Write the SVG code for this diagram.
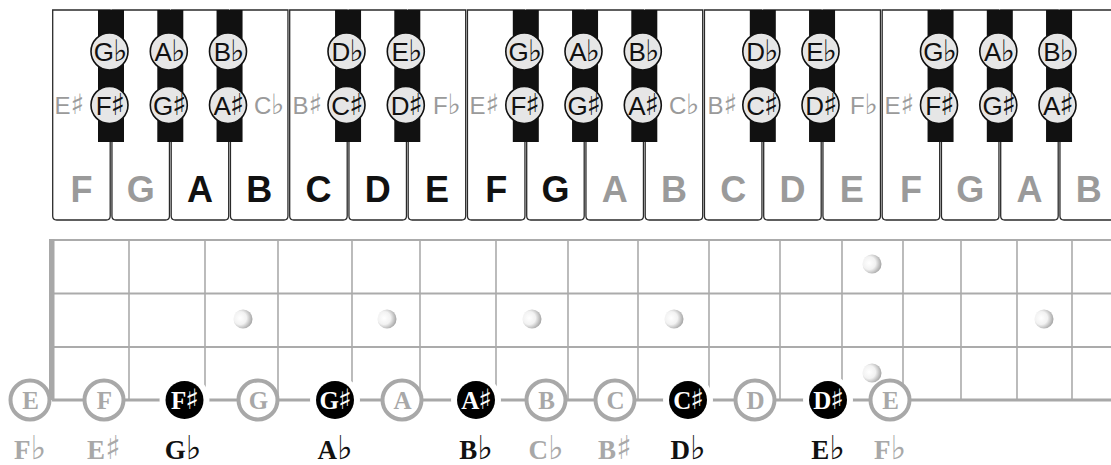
<svg xmlns="http://www.w3.org/2000/svg" xmlns:xlink="http://www.w3.org/1999/xlink" width="1111" height="465" viewBox="0 0 1111 465">
<style>
.wk{fill:#fff;stroke:#2a2a2a;stroke-width:1.3}
.bk{fill:#111}
.kc{fill:#e6e6e6;stroke:#111;stroke-width:1.6}
.kct{font-family:"Liberation Sans","DejaVu Sans",sans-serif;font-size:26px;fill:#111;text-anchor:middle;letter-spacing:-1px}
.acc{font-family:"DejaVu Sans",sans-serif}
.kct .acc{font-size:30px}
.en{font-family:"Liberation Sans","DejaVu Sans",sans-serif;font-size:24px;fill:#9a9a9a}
.en .acc{font-size:28px}
.wl{font-family:"Liberation Sans","DejaVu Sans",sans-serif;font-size:36px;font-weight:bold;text-anchor:middle}
.g{fill:#9a9a9a}.b{fill:#111}
.grid{stroke:#ababab;stroke-width:2;fill:none}
.fret{stroke:#ababab;stroke-width:1.6}
.gc{fill:#fff;stroke:#a8a8a8;stroke-width:4}
.halo{fill:#fff}
.bc{fill:#000}
.ft{font-family:"Liberation Serif","DejaVu Serif",serif;font-weight:bold;font-size:25px;text-anchor:middle;letter-spacing:-1px}
.ft .acc{font-size:28px;font-weight:bold}
.ftg{fill:#a8a8a8}.ftw{fill:#fff}
.bl{font-family:"Liberation Serif","DejaVu Serif",serif;font-weight:bold;font-size:27px;text-anchor:middle}
.bl .acc{font-size:33px;font-weight:bold}
.blg{fill:#a8a8a8}.blb{fill:#111}
</style>
<defs>
<path id="wkey" d="M0,10 V216 Q0,220 4,220 H53.5 Q57.5,220 57.5,216 V10 Z"/>
<rect id="bkey" x="-13" y="10" width="26" height="132"/>
<radialGradient id="pearl" cx="0.35" cy="0.45" r="0.75">
<stop offset="0" stop-color="#ffffff"/>
<stop offset="0.45" stop-color="#f2f2f2"/>
<stop offset="1" stop-color="#8c8c8c"/>
</radialGradient>
</defs>

<g id="keyboard">
<g id="white-keys">
<use xlink:href="#wkey" class="wk" x="52.7"/>
<use xlink:href="#wkey" class="wk" x="111.95"/>
<use xlink:href="#wkey" class="wk" x="171.2"/>
<use xlink:href="#wkey" class="wk" x="230.45"/>
<use xlink:href="#wkey" class="wk" x="289.7"/>
<use xlink:href="#wkey" class="wk" x="348.95"/>
<use xlink:href="#wkey" class="wk" x="408.2"/>
<use xlink:href="#wkey" class="wk" x="467.45"/>
<use xlink:href="#wkey" class="wk" x="526.7"/>
<use xlink:href="#wkey" class="wk" x="585.95"/>
<use xlink:href="#wkey" class="wk" x="645.2"/>
<use xlink:href="#wkey" class="wk" x="704.45"/>
<use xlink:href="#wkey" class="wk" x="763.7"/>
<use xlink:href="#wkey" class="wk" x="822.95"/>
<use xlink:href="#wkey" class="wk" x="882.2"/>
<use xlink:href="#wkey" class="wk" x="941.45"/>
<use xlink:href="#wkey" class="wk" x="1000.7"/>
<use xlink:href="#wkey" class="wk" x="1059.95"/>
</g>
<g id="white-labels">
<text class="wl g" x="81.45" y="202">F</text>
<text class="wl g" x="140.7" y="202">G</text>
<text class="wl b" x="199.95" y="202">A</text>
<text class="wl b" x="259.2" y="202">B</text>
<text class="wl b" x="318.45" y="202">C</text>
<text class="wl b" x="377.7" y="202">D</text>
<text class="wl b" x="436.95" y="202">E</text>
<text class="wl b" x="496.2" y="202">F</text>
<text class="wl b" x="555.45" y="202">G</text>
<text class="wl g" x="614.7" y="202">A</text>
<text class="wl g" x="673.95" y="202">B</text>
<text class="wl g" x="733.2" y="202">C</text>
<text class="wl g" x="792.45" y="202">D</text>
<text class="wl g" x="851.7" y="202">E</text>
<text class="wl g" x="910.95" y="202">F</text>
<text class="wl g" x="970.2" y="202">G</text>
<text class="wl g" x="1029.45" y="202">A</text>
<text class="wl g" x="1088.7" y="202">B</text>
</g>
<g id="black-keys">
<use xlink:href="#bkey" class="bk" x="111"/>
<use xlink:href="#bkey" class="bk" x="170.3"/>
<use xlink:href="#bkey" class="bk" x="229.55"/>
<use xlink:href="#bkey" class="bk" x="348.05"/>
<use xlink:href="#bkey" class="bk" x="407.3"/>
<use xlink:href="#bkey" class="bk" x="525.8"/>
<use xlink:href="#bkey" class="bk" x="585.05"/>
<use xlink:href="#bkey" class="bk" x="644.3"/>
<use xlink:href="#bkey" class="bk" x="762.8"/>
<use xlink:href="#bkey" class="bk" x="822.05"/>
<use xlink:href="#bkey" class="bk" x="940.55"/>
<use xlink:href="#bkey" class="bk" x="999.8"/>
<use xlink:href="#bkey" class="bk" x="1059.05"/>
</g>
<g id="key-circles">
<circle class="kc" cx="109.5" cy="51.5" r="18.5"/><text class="kct" x="110" y="61">G<tspan class="acc">♭</tspan></text>
<circle class="kc" cx="109.5" cy="105" r="18.5"/><text class="kct" x="110" y="114.5">F<tspan class="acc">♯</tspan></text>
<circle class="kc" cx="168.8" cy="51.5" r="18.5"/><text class="kct" x="169.3" y="61">A<tspan class="acc">♭</tspan></text>
<circle class="kc" cx="168.8" cy="105" r="18.5"/><text class="kct" x="169.3" y="114.5">G<tspan class="acc">♯</tspan></text>
<circle class="kc" cx="228" cy="51.5" r="18.5"/><text class="kct" x="228.5" y="61">B<tspan class="acc">♭</tspan></text>
<circle class="kc" cx="228" cy="105" r="18.5"/><text class="kct" x="228.5" y="114.5">A<tspan class="acc">♯</tspan></text>
<circle class="kc" cx="346.5" cy="51.5" r="18.5"/><text class="kct" x="347" y="61">D<tspan class="acc">♭</tspan></text>
<circle class="kc" cx="346.5" cy="105" r="18.5"/><text class="kct" x="347" y="114.5">C<tspan class="acc">♯</tspan></text>
<circle class="kc" cx="405.8" cy="51.5" r="18.5"/><text class="kct" x="406.3" y="61">E<tspan class="acc">♭</tspan></text>
<circle class="kc" cx="405.8" cy="105" r="18.5"/><text class="kct" x="406.3" y="114.5">D<tspan class="acc">♯</tspan></text>
<circle class="kc" cx="524.3" cy="51.5" r="18.5"/><text class="kct" x="524.8" y="61">G<tspan class="acc">♭</tspan></text>
<circle class="kc" cx="524.3" cy="105" r="18.5"/><text class="kct" x="524.8" y="114.5">F<tspan class="acc">♯</tspan></text>
<circle class="kc" cx="583.5" cy="51.5" r="18.5"/><text class="kct" x="584" y="61">A<tspan class="acc">♭</tspan></text>
<circle class="kc" cx="583.5" cy="105" r="18.5"/><text class="kct" x="584" y="114.5">G<tspan class="acc">♯</tspan></text>
<circle class="kc" cx="642.8" cy="51.5" r="18.5"/><text class="kct" x="643.3" y="61">B<tspan class="acc">♭</tspan></text>
<circle class="kc" cx="642.8" cy="105" r="18.5"/><text class="kct" x="643.3" y="114.5">A<tspan class="acc">♯</tspan></text>
<circle class="kc" cx="761.3" cy="51.5" r="18.5"/><text class="kct" x="761.8" y="61">D<tspan class="acc">♭</tspan></text>
<circle class="kc" cx="761.3" cy="105" r="18.5"/><text class="kct" x="761.8" y="114.5">C<tspan class="acc">♯</tspan></text>
<circle class="kc" cx="820.5" cy="51.5" r="18.5"/><text class="kct" x="821" y="61">E<tspan class="acc">♭</tspan></text>
<circle class="kc" cx="820.5" cy="105" r="18.5"/><text class="kct" x="821" y="114.5">D<tspan class="acc">♯</tspan></text>
<circle class="kc" cx="939" cy="51.5" r="18.5"/><text class="kct" x="939.5" y="61">G<tspan class="acc">♭</tspan></text>
<circle class="kc" cx="939" cy="105" r="18.5"/><text class="kct" x="939.5" y="114.5">F<tspan class="acc">♯</tspan></text>
<circle class="kc" cx="998.3" cy="51.5" r="18.5"/><text class="kct" x="998.8" y="61">A<tspan class="acc">♭</tspan></text>
<circle class="kc" cx="998.3" cy="105" r="18.5"/><text class="kct" x="998.8" y="114.5">G<tspan class="acc">♯</tspan></text>
<circle class="kc" cx="1057.5" cy="51.5" r="18.5"/><text class="kct" x="1058" y="61">B<tspan class="acc">♭</tspan></text>
<circle class="kc" cx="1057.5" cy="105" r="18.5"/><text class="kct" x="1058" y="114.5">A<tspan class="acc">♯</tspan></text>
</g>
<g id="enharmonic-labels">
<text class="en" x="84" y="114" text-anchor="end">E<tspan class="acc">♯</tspan></text>
<text class="en" x="254" y="114">C<tspan class="acc">♭</tspan></text>
<text class="en" x="322" y="114" text-anchor="end">B<tspan class="acc">♯</tspan></text>
<text class="en" x="433" y="114">F<tspan class="acc">♭</tspan></text>
<text class="en" x="499" y="114" text-anchor="end">E<tspan class="acc">♯</tspan></text>
<text class="en" x="669" y="114">C<tspan class="acc">♭</tspan></text>
<text class="en" x="737" y="114" text-anchor="end">B<tspan class="acc">♯</tspan></text>
<text class="en" x="850" y="114">F<tspan class="acc">♭</tspan></text>
<text class="en" x="914" y="114" text-anchor="end">E<tspan class="acc">♯</tspan></text>
</g>
</g>

<g id="fretboard">
<g id="grid">
<line class="grid" x1="54" y1="240" x2="1111" y2="240"/>
<line class="grid" x1="54" y1="293.5" x2="1111" y2="293.5"/>
<line class="grid" x1="54" y1="347" x2="1111" y2="347"/>
<line class="fret" x1="129" y1="240" x2="129" y2="400"/>
<line class="fret" x1="205" y1="240" x2="205" y2="400"/>
<line class="fret" x1="278" y1="240" x2="278" y2="400"/>
<line class="fret" x1="352" y1="240" x2="352" y2="400"/>
<line class="fret" x1="420" y1="240" x2="420" y2="400"/>
<line class="fret" x1="496" y1="240" x2="496" y2="400"/>
<line class="fret" x1="568" y1="240" x2="568" y2="400"/>
<line class="fret" x1="638" y1="240" x2="638" y2="400"/>
<line class="fret" x1="709" y1="240" x2="709" y2="400"/>
<line class="fret" x1="780" y1="240" x2="780" y2="400"/>
<line class="fret" x1="842" y1="240" x2="842" y2="400"/>
<line class="fret" x1="903" y1="240" x2="903" y2="400"/>
<line class="fret" x1="961" y1="240" x2="961" y2="400"/>
<line class="fret" x1="1017" y1="240" x2="1017" y2="400"/>
<line class="fret" x1="1072" y1="240" x2="1072" y2="400"/>
<rect id="nut" x="49" y="239" width="5.5" height="161" fill="#a8a8a8"/>
</g>
<g id="inlays" fill="url(#pearl)">
<circle cx="243" cy="319" r="9.5"/>
<circle cx="387" cy="319" r="9.5"/>
<circle cx="532" cy="319" r="9.5"/>
<circle cx="674" cy="319" r="9.5"/>
<circle cx="872" cy="264" r="9.5"/>
<circle cx="872" cy="373" r="9.5"/>
<circle cx="1044" cy="319" r="9.5"/>
</g>
</g>

<g id="connectors">
<line x1="52" y1="400" x2="1111" y2="400" stroke="#a8a8a8" stroke-width="3"/>
</g>

<g id="string-notes">
<g id="n-E"><circle class="gc" cx="30" cy="400" r="19.5"/><text class="ft ftg" x="30" y="408.5">E</text></g>
<g id="n-F"><circle class="gc" cx="104" cy="400" r="19.5"/><text class="ft ftg" x="104" y="408.5">F</text></g>
<g id="n-Fs"><circle class="halo" cx="184.5" cy="400" r="25"/><circle class="bc" cx="184.5" cy="400" r="19"/><text class="ft ftw" x="184.5" y="408.5">F<tspan class="acc">♯</tspan></text></g>
<g id="n-G"><circle class="gc" cx="258" cy="400" r="19.5"/><text class="ft ftg" x="258" y="408.5">G</text></g>
<g id="n-Gs"><circle class="halo" cx="335" cy="400" r="25"/><circle class="bc" cx="335" cy="400" r="19"/><text class="ft ftw" x="335" y="408.5">G<tspan class="acc">♯</tspan></text></g>
<g id="n-A"><circle class="gc" cx="402" cy="400" r="19.5"/><text class="ft ftg" x="402" y="408.5">A</text></g>
<g id="n-As"><circle class="halo" cx="476" cy="400" r="25"/><circle class="bc" cx="476" cy="400" r="19"/><text class="ft ftw" x="476" y="408.5">A<tspan class="acc">♯</tspan></text></g>
<g id="n-B"><circle class="gc" cx="546" cy="400" r="19.5"/><text class="ft ftg" x="546" y="408.5">B</text></g>
<g id="n-C"><circle class="gc" cx="615" cy="400" r="19.5"/><text class="ft ftg" x="615" y="408.5">C</text></g>
<g id="n-Cs"><circle class="halo" cx="688" cy="400" r="25"/><circle class="bc" cx="688" cy="400" r="19"/><text class="ft ftw" x="688" y="408.5">C<tspan class="acc">♯</tspan></text></g>
<g id="n-D"><circle class="gc" cx="755" cy="400" r="19.5"/><text class="ft ftg" x="755" y="408.5">D</text></g>
<g id="n-Ds"><circle class="halo" cx="828" cy="400" r="25"/><circle class="bc" cx="828" cy="400" r="19"/><text class="ft ftw" x="828" y="408.5">D<tspan class="acc">♯</tspan></text></g>
<g id="n-E2"><circle class="gc" cx="890" cy="400" r="19.5"/><text class="ft ftg" x="890" y="408.5">E</text></g>
</g>

<g id="alt-names">
<text class="bl blg" x="30" y="459">F<tspan class="acc">♭</tspan></text>
<text class="bl blg" x="104" y="459">E<tspan class="acc">♯</tspan></text>
<text class="bl blb" x="183" y="459">G<tspan class="acc">♭</tspan></text>
<text class="bl blb" x="335" y="459">A<tspan class="acc">♭</tspan></text>
<text class="bl blb" x="476" y="459">B<tspan class="acc">♭</tspan></text>
<text class="bl blg" x="546" y="459">C<tspan class="acc">♭</tspan></text>
<text class="bl blg" x="615" y="459">B<tspan class="acc">♯</tspan></text>
<text class="bl blb" x="688" y="459">D<tspan class="acc">♭</tspan></text>
<text class="bl blb" x="828" y="459">E<tspan class="acc">♭</tspan></text>
<text class="bl blg" x="890" y="459">F<tspan class="acc">♭</tspan></text>
</g>
</svg>
